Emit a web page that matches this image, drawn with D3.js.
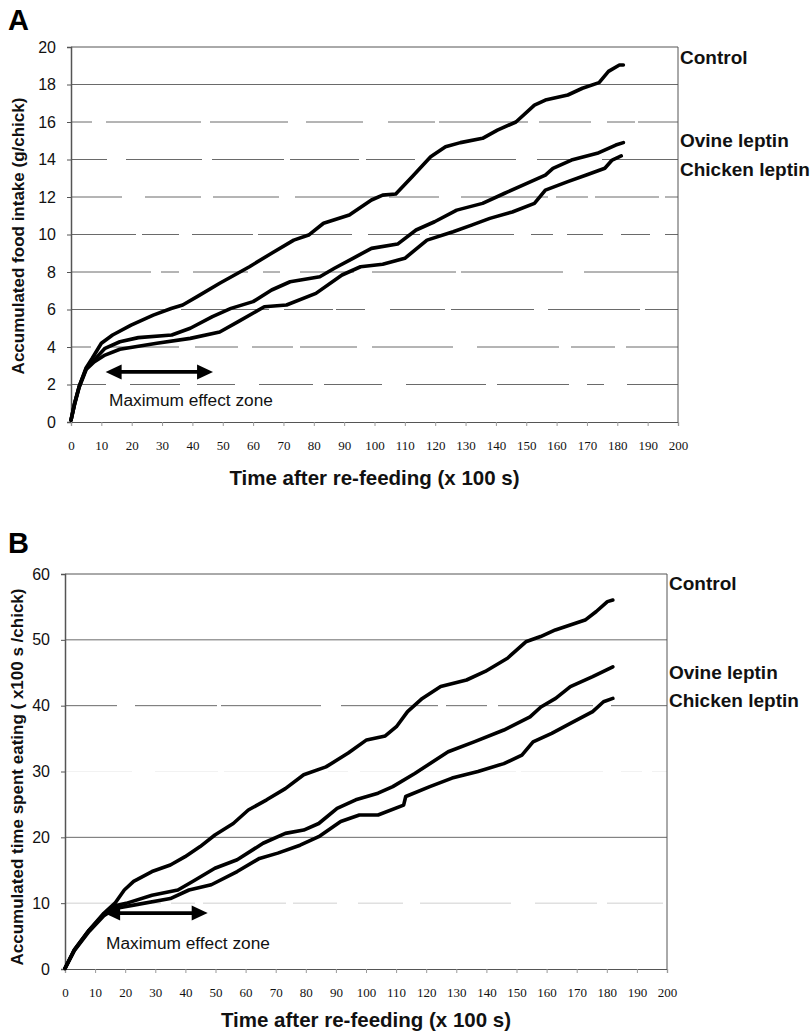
<!DOCTYPE html>
<html>
<head>
<meta charset="utf-8">
<script src="https://cdn.jsdelivr.net/npm/d3@7"></script>
<style>
  html, body { margin: 0; padding: 0; background: #fff; }
  svg { display: block; }
</style>
</head>
<body>
<svg id="fig" width="810" height="1034"></svg>
<script>
// ---- Panel A: accumulated food intake (g/chick), time in units of 100 s ----
const foodControl = [[0,0.1],[1.2,1.0],[2.7,1.9],[5,2.9],[7,3.4],[10,4.2],[13.7,4.64],[19.8,5.17],[27.1,5.7],[33,6.05],[36.8,6.24],[41.7,6.7],[49,7.4],[58.8,8.28],[66.1,9.0],[73.4,9.7],[78.3,9.97],[83.2,10.6],[91.7,11.04],[99,11.84],[102.7,12.1],[107,12.16],[112.4,13.08],[118.5,14.15],[123.4,14.68],[128.3,14.9],[135.6,15.13],[140.5,15.57],[146.6,16.0],[152.7,16.9],[156.3,17.17],[163.7,17.44],[168.5,17.8],[174,18.1],[177.1,18.7],[180.7,19.04],[182,19.04]];
const foodOvine = [[0,0.1],[1.2,1.0],[2.7,1.9],[5,2.85],[7.6,3.3],[11.2,3.93],[16.1,4.28],[22.2,4.5],[33.2,4.64],[39.3,5.0],[46.6,5.62],[52.7,6.06],[60,6.42],[66.1,7.04],[72.2,7.48],[82,7.75],[86.8,8.2],[92.9,8.73],[99,9.26],[107.6,9.49],[113.7,10.24],[119.8,10.68],[127.1,11.3],[135.6,11.66],[142.9,12.2],[150.2,12.73],[156.3,13.17],[158.8,13.53],[164.9,13.97],[173.4,14.33],[179.5,14.77],[182,14.9]];
const foodChicken = [[0,0.1],[1.2,0.95],[2.7,1.85],[5,2.8],[7.6,3.2],[11.2,3.57],[16.1,3.88],[28.3,4.2],[39.3,4.46],[49,4.8],[55.1,5.35],[63.7,6.15],[71,6.24],[80.7,6.86],[89.3,7.84],[95.4,8.28],[102.7,8.41],[110,8.73],[117.3,9.7],[125.9,10.15],[132,10.5],[138,10.86],[145.4,11.2],[152.7,11.66],[156.3,12.37],[163.7,12.82],[169.8,13.17],[175.9,13.53],[178.3,13.97],[181.3,14.19]];

// ---- Panel B: accumulated time spent eating (x100 s/chick) ----
const eatControl = [[0,0.1],[3.1,2.9],[8,5.9],[12.9,8.46],[16.6,10],[19.7,12],[22.8,13.3],[28.9,14.8],[35,15.8],[39.9,17.06],[44.9,18.6],[49.8,20.35],[55.9,22.1],[60.9,24.15],[67,25.7],[73.2,27.4],[79.3,29.5],[86.7,30.7],[94.1,32.8],[100.2,34.8],[106.4,35.4],[110.1,36.8],[113.8,39.1],[118.7,41.1],[124.8,42.9],[133.4,43.9],[139.6,45.2],[147,47.2],[153.1,49.7],[158,50.5],[162.9,51.5],[172.8,53],[176.5,54.3],[180.2,55.8],[182,56.05]];
const eatOvine = [[0,0.1],[3.1,2.9],[8,5.9],[12.9,8.3],[16.6,9.6],[20.3,9.97],[28.9,11.2],[37.5,12],[42.4,13.3],[49.8,15.3],[57.2,16.6],[65.8,19.1],[73.2,20.6],[79.3,21.1],[84.3,22.1],[90.4,24.4],[96.6,25.7],[104,26.7],[108.9,27.7],[116.2,29.7],[127.3,33],[135.9,34.5],[145.8,36.3],[154.5,38.3],[158.1,39.8],[163,41.1],[167.9,42.9],[175.3,44.4],[182,45.9]];
const eatChicken = [[0,0.1],[3.1,2.8],[8,5.7],[12.9,8.1],[16.6,9.2],[22.8,9.7],[35,10.7],[41.2,12],[48.6,12.8],[57.2,14.8],[64.6,16.8],[70.7,17.6],[78.1,18.8],[84.3,20.1],[91.6,22.4],[97.8,23.4],[104,23.4],[112.5,24.9],[113.2,26.2],[121.2,27.7],[128.6,29],[137.2,30],[145.8,31.2],[151.8,32.5],[155.5,34.5],[161.7,35.8],[167.9,37.3],[175.3,39.1],[178.9,40.6],[182,41.1]];

const seriesNames = ["Control", "Ovine leptin", "Chicken leptin"];
const xTicks = d3.range(0, 201, 10);
const foodTicks = d3.range(0, 21, 2);
const eatTicks = d3.range(0, 61, 10);

const svg = d3.select("#fig");
const sans = "'Liberation Sans', Arial, sans-serif";
const serif = "'Liberation Serif', 'Times New Roman', serif";

// Deterministic pseudo-random fragmentation so gridlines look like printed, broken hairlines
function brokenDash(seed) {
  let s = seed * 9301 + 49297;
  const rnd = () => { s = (s * 9301 + 49297) % 233280; return s / 233280; };
  const parts = [];
  for (let i = 0; i < 50; i++) {
    parts.push((15 + rnd() * 90).toFixed(0));
    parts.push((3 + rnd() * 22).toFixed(0));
  }
  return parts.join(",");
}

function panel(cfg) {
  const x = d3.scaleLinear().domain([0, 200]).range([cfg.left, cfg.right]);
  const y = d3.scaleLinear().domain([0, cfg.yMax]).range([cfg.bottom, cfg.top]);
  const g = svg.append("g");

  // gridlines
  g.append("g").selectAll("line")
    .data(cfg.yTicks.filter(v => v > 0 && v < cfg.yMax))
    .join("line")
    .attr("x1", cfg.left).attr("x2", cfg.right)
    .attr("y1", d => y(d)).attr("y2", d => y(d))
    .attr("stroke", "#6a6a6a")
    .attr("stroke-width", 1)
    .attr("opacity", d => (cfg.faint || {})[d] !== undefined ? cfg.faint[d] : 1)
    .attr("stroke-dasharray", (d, i) => (cfg.solid || []).includes(d) ? null : brokenDash(i + cfg.seed));

  // frame: top and right
  g.append("line").attr("x1", cfg.left).attr("x2", cfg.right)
    .attr("y1", y(cfg.yMax)).attr("y2", y(cfg.yMax))
    .attr("stroke", "#555").attr("stroke-width", 1);
  g.append("line").attr("x1", cfg.right).attr("x2", cfg.right)
    .attr("y1", y(cfg.yMax)).attr("y2", y(0))
    .attr("stroke", "#555").attr("stroke-width", 1);

  // y axis
  const yAxis = g.append("g").attr("transform", `translate(${cfg.left},0)`)
    .call(d3.axisLeft(y).tickValues(cfg.yTicks).tickSize(4).tickPadding(11).tickFormat(d3.format("d")));
  yAxis.select(".domain").attr("stroke", "#555").attr("stroke-width", 1.5);
  yAxis.selectAll(".tick line").attr("stroke", "#555");
  yAxis.selectAll("text").attr("font-family", sans).attr("font-size", 16).attr("fill", "#111");

  // x axis
  const xAxis = g.append("g").attr("transform", `translate(0,${cfg.bottom})`)
    .call(d3.axisBottom(x).tickValues(xTicks).tickSize(4).tickPadding(15).tickFormat(d3.format("d")));
  xAxis.select(".domain").attr("stroke", "#555").attr("stroke-width", 1.2);
  xAxis.selectAll(".tick line").attr("stroke", "#999");
  xAxis.selectAll("text").attr("font-family", serif).attr("font-size", 13).attr("fill", "#111");

  // series
  const line = d3.line().x(d => x(d[0])).y(d => y(d[1])).curve(d3.curveLinear);
  g.append("g").selectAll("path")
    .data(cfg.series)
    .join("path")
    .attr("d", line)
    .attr("fill", "none")
    .attr("stroke", "#000")
    .attr("stroke-width", 3.6)
    .attr("stroke-linejoin", "round")
    .attr("stroke-linecap", "round");

  // double-headed arrow marking the maximum effect zone
  const ax1 = x(cfg.arrow[0]), ax2 = x(cfg.arrow[1]), ay = y(cfg.arrow[2]);
  const hl = 16, hw = 7.5;
  g.append("line").attr("x1", ax1 + hl - 2).attr("x2", ax2 - hl + 2)
    .attr("y1", ay).attr("y2", ay).attr("stroke", "#000").attr("stroke-width", 3.8);
  g.append("path").attr("d", `M${ax1},${ay} L${ax1 + hl},${ay - hw} L${ax1 + hl},${ay + hw} Z`).attr("fill", "#000");
  g.append("path").attr("d", `M${ax2},${ay} L${ax2 - hl},${ay - hw} L${ax2 - hl},${ay + hw} Z`).attr("fill", "#000");
  g.append("text").attr("x", cfg.zoneLabel[0]).attr("y", cfg.zoneLabel[1])
    .attr("font-family", sans).attr("font-size", 17.3).attr("fill", "#111")
    .text("Maximum effect zone");

  // series labels on the right
  g.append("g").selectAll("text")
    .data(seriesNames)
    .join("text")
    .attr("x", cfg.right + 2)
    .attr("y", (d, i) => cfg.labelY[i])
    .attr("font-family", sans).attr("font-weight", "bold").attr("font-size", 19)
    .attr("fill", "#111")
    .text(d => d);

  // axis titles
  g.append("text")
    .attr("x", (cfg.left + cfg.right) / 2)
    .attr("y", cfg.xTitleY)
    .attr("text-anchor", "middle")
    .attr("font-family", sans).attr("font-weight", "bold").attr("font-size", 20.5)
    .attr("fill", "#111")
    .text("Time after re-feeding (x 100 s)");
  g.append("text")
    .attr("transform", `translate(${cfg.yTitleX},${cfg.yTitleMid}) rotate(-90)`)
    .attr("text-anchor", "middle")
    .attr("font-family", sans).attr("font-weight", "bold").attr("font-size", 17)
    .attr("fill", "#111")
    .text(cfg.yTitle);

  // panel letter
  g.append("text").attr("x", 8).attr("y", cfg.letterY)
    .attr("font-family", sans).attr("font-weight", "bold").attr("font-size", 29)
    .attr("fill", "#000").text(cfg.letter);
}

panel({
  letter: "A", letterY: 30,
  left: 71, right: 678, top: 47, bottom: 422, yMax: 20,
  yTicks: foodTicks, seed: 3, solid: [18],
  series: [foodControl, foodOvine, foodChicken],
  arrow: [11.4, 46.8, 2.67],
  zoneLabel: [109, 406],
  labelY: [64, 147, 176],
  xTitleY: 485,
  yTitle: "Accumulated food intake (g/chick)", yTitleX: 24, yTitleMid: 236
});

panel({
  letter: "B", letterY: 553,
  left: 65, right: 667, top: 574, bottom: 969, yMax: 60,
  yTicks: eatTicks, seed: 11, solid: [20, 50], faint: {10: 0.3, 30: 0.08},
  series: [eatControl, eatOvine, eatChicken],
  arrow: [13, 47.4, 8.5],
  zoneLabel: [106, 949],
  labelY: [590, 679, 707],
  xTitleY: 1027,
  yTitle: "Accumulated time spent eating ( x100 s /chick)", yTitleX: 23, yTitleMid: 777
});
</script>
</body>
</html>
